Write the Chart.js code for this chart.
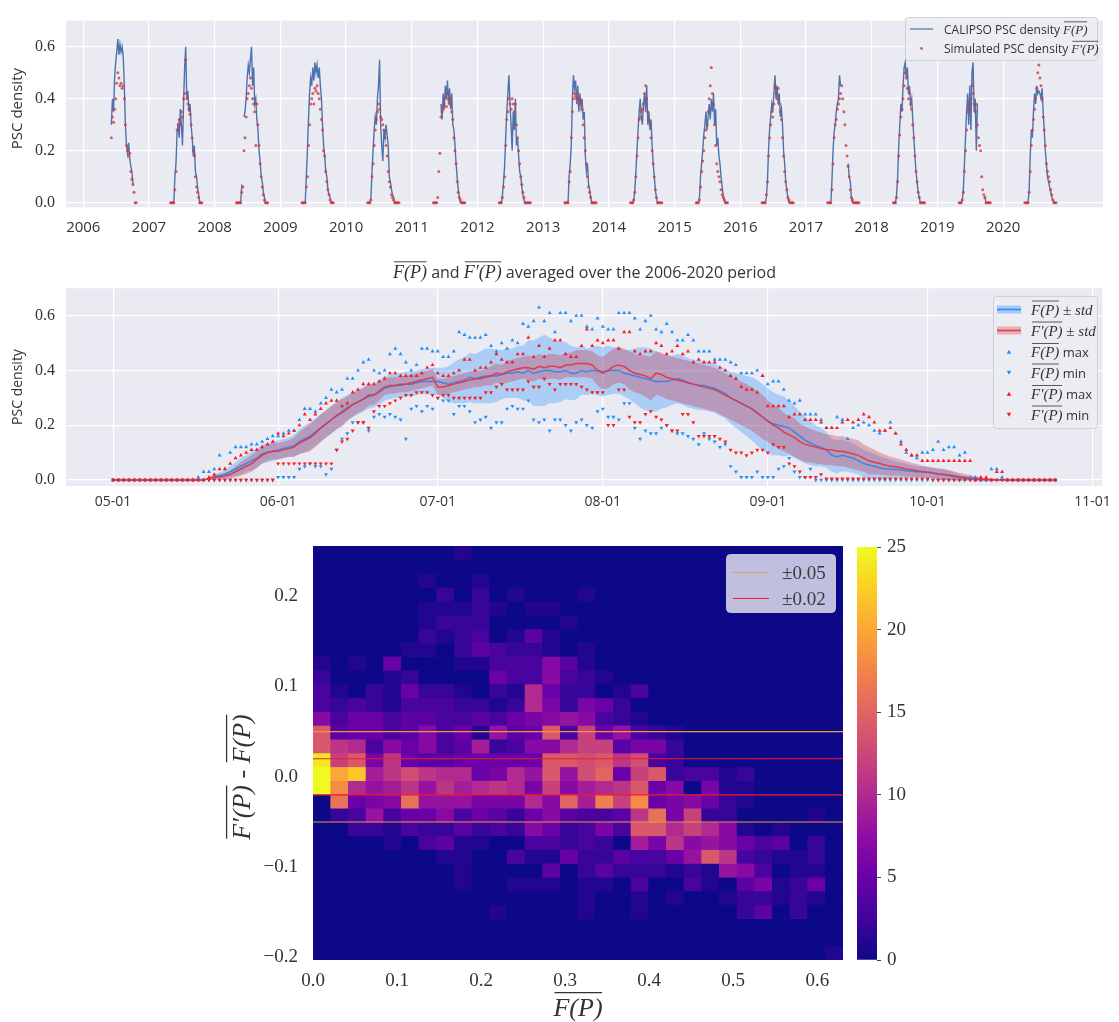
<!DOCTYPE html>
<html><head><meta charset="utf-8">
<script src="https://cdn.jsdelivr.net/npm/chart.js@4.4.1/dist/chart.umd.min.js"></script>
<style>
html,body{margin:0;padding:0;background:#fff;width:1119px;height:1022px;overflow:hidden}
canvas{position:absolute}
</style></head><body>
<canvas id="c1" width="1119" height="245" style="left:0;top:0;width:1119px;height:245px"></canvas>
<canvas id="c2" width="1119" height="265" style="left:0;top:245px;width:1119px;height:265px"></canvas>
<canvas id="c3" width="1119" height="512" style="left:0;top:510px;width:1119px;height:512px"></canvas>
<canvas id="c4" width="100" height="512" style="left:840px;top:510px;width:100px;height:512px"></canvas>
<script>
// ---------------- DATA : panel 1 (daily PSC density, sampled every 6 days from May 1) ----------------
const years = [2006,2007,2008,2009,2010,2011,2012,2013,2014,2015,2016,2017,2018,2019,2020];
const yearTicks = [2006,2007,2008,2009,2010,2011,2012,2013,2014,2015,2016,2017,2018,2019,2020];
const densityTicks = [0,0.2,0.4,0.6];
const sampleStepDays = 6;
const cal2006=[null,null,null,null,null,null,0.30,0.40,0.35,0.48,0.54,0.58,0.63,0.57,0.61,0.58,0.60,0.56,0.45,0.30,0.22,0.19,0.23,0.17,0.14,0.12,0.07,null,null,null];
const sim2006=[null,null,null,null,null,null,0.25,0.33,0.31,0.36,0.40,0.46,0.50,0.48,0.45,0.46,0.44,0.45,0.40,0.30,0.22,0.20,0.18,0.19,0.12,0.09,0.07,0.04,0,0];
const cal2007=[0,0,0,0,0.10,0.15,0.27,0.30,0.25,0.36,0.30,0.22,0.38,0.52,0.60,0.40,0.43,0.35,0.38,0.30,0.25,0.18,0.22,0.12,0.10,0.06,0.03,0,0,0];
const sim2007=[0,0,0,0,0.05,0.12,0.28,0.30,0.32,0.30,0.35,0.33,0.40,0.42,0.55,0.40,0.38,0.36,0.34,0.30,0.25,0.20,0.18,0.10,0.06,0.04,0.02,0,0,0];
const cal2008=[0,0,0,0,0,0.07,null,0.33,0.35,0.40,0.48,0.53,0.50,0.55,0.60,0.45,0.52,0.38,0.40,0.32,0.28,0.20,0.16,0.10,0.08,0.04,0.02,0,0,0];
const sim2008=[0,0,0,0,0,0.04,0.06,0.20,0.25,0.33,0.40,0.42,0.45,0.48,0.44,0.40,0.38,0.35,0.22,0.38,0.30,0.22,0.15,0.10,0.06,0.03,0.01,0,0,0];
const cal2009=[0,0,0,0,0.10,0.20,0.32,0.42,0.48,0.45,0.52,0.47,0.54,0.50,0.53,0.48,0.52,0.45,0.40,0.30,0.22,0.18,0.12,0.10,0.05,0.03,0.02,0,0,0];
const sim2009=[0,0,0,0,0.06,0.10,0.22,0.30,0.38,0.40,0.42,0.38,0.44,0.43,0.45,0.42,0.40,0.36,0.32,0.28,0.20,0.18,0.12,0.08,0.05,0.03,0.01,0,0,0];
const cal2010=[0,0,0,0.02,0.12,0.20,0.28,0.33,0.30,0.40,0.45,0.55,0.30,0.22,0.16,0.28,0.25,0.30,0.26,0.22,0.10,0.08,0.05,0.03,0.02,0,0,0,0,0];
const sim2010=[0,0,0,0.01,0.10,0.15,0.22,0.28,0.32,0.35,0.38,0.36,0.33,0.32,0.30,0.28,0.25,0.22,0.18,0.12,0.08,0.06,0.03,0.02,0.01,0,0,0,0,0];
const cal2011=[0,0,0,0,0,null,null,0.38,0.32,0.42,0.36,0.45,0.40,0.47,0.38,0.44,0.36,0.42,0.30,0.28,0.22,0.15,0.10,0.05,0.02,0,0,0,0,0];
const sim2011=[0,0,0,0,0.02,0.12,0.19,0.33,0.35,0.36,0.38,0.40,0.37,0.42,0.40,0.38,0.40,0.35,0.32,0.25,0.20,0.15,0.08,0.04,0.02,0.01,0,0,0,0];
const cal2012=[0,0,0,0.03,0.08,0.14,0.25,0.35,0.42,0.49,0.38,0.30,0.20,0.35,0.28,0.40,0.22,0.25,0.18,0.12,0.10,0.06,0.03,0.01,0,0,0,0,0,0];
const sim2012=[0,0,0,0.02,0.06,0.10,0.22,0.32,0.35,0.40,0.38,0.36,0.40,0.38,0.35,0.38,0.30,0.25,0.20,0.15,0.10,0.07,0.04,0.02,0,0,0,0,0,0];
const cal2013=[0,0,0,0,0.10,0.15,0.22,0.40,0.49,0.44,0.47,0.38,0.45,0.35,0.42,0.37,0.40,0.32,0.35,0.18,0.12,0.15,0.07,0.05,0.02,0,0,0,0,0];
const sim2013=[0,0,0,0,0.08,0.12,0.25,0.35,0.40,0.42,0.41,0.40,0.42,0.38,0.40,0.39,0.36,0.30,0.25,0.20,0.15,0.10,0.06,0.04,0.02,0,0,0,0,0];
const cal2014=[0,0,0,0.01,0.05,0.12,0.20,0.28,0.35,0.40,0.33,0.30,0.38,0.42,0.35,0.45,0.30,0.35,0.28,0.32,0.22,0.15,0.10,0.05,0.02,0,0,0,0,0];
const sim2014=[0,0,0,0.01,0.04,0.10,0.18,0.25,0.32,0.33,0.35,0.36,0.38,0.42,0.45,0.40,0.35,0.32,0.30,0.25,0.20,0.15,0.10,0.05,0.02,0,0,0,0,0];
const cal2015=[0,0,0,0.02,0.10,0.15,0.20,0.26,0.30,0.35,0.28,0.33,0.38,0.32,0.40,0.35,0.42,0.30,0.36,0.22,0.25,0.18,0.15,0.10,0.06,0.03,0.01,0,0,0];
const sim2015=[0,0,0,0.01,0.06,0.12,0.16,0.20,0.25,0.28,0.30,0.35,0.40,0.45,0.52,0.42,0.38,0.30,0.22,0.15,0.12,0.10,0.08,0.05,0.03,0.02,0.01,0,0,0];
const cal2016=[0,0,0,0,0.02,0.08,0.20,0.28,0.33,0.38,0.35,0.42,0.49,0.40,0.45,0.38,0.42,0.33,0.36,0.30,0.20,0.15,0.08,0.05,0.02,0,0,0,0,0];
const sim2016=[0,0,0,0,0.03,0.08,0.18,0.25,0.30,0.35,0.33,0.38,0.45,0.42,0.40,0.44,0.38,0.35,0.32,0.25,0.18,0.12,0.08,0.05,0.02,0.01,0,0,0,0];
const cal2017=[0,0,0,0,0.08,0.20,0.27,0.30,0.35,0.38,0.40,0.49,0.45,null,null,null,null,null,null,0.15,0.10,0.08,0.02,0,0,0,0,0,0,0];
const sim2017=[0,0,0,0,0.05,0.15,0.25,0.30,0.32,0.36,0.38,0.40,0.42,0.45,0.40,0.35,0.30,0.22,0.18,0.14,0.10,0.05,0.02,0.01,0,0,0,0,0,0];
const cal2018=[0,0,0,0.03,0.10,0.22,0.30,0.38,0.35,0.45,0.52,0.54,0.48,0.52,0.42,0.45,0.38,0.40,0.32,0.25,0.18,0.12,0.08,0.04,0.02,0,0,0,0,0];
const sim2018=[0,0,0,0.02,0.08,0.18,0.26,0.33,0.36,0.40,0.45,0.50,0.48,0.44,0.40,0.42,0.38,0.36,0.30,0.25,0.18,0.12,0.08,0.04,0.02,0,0,0,0,0];
const cal2019=[0,0,0,0.01,0.05,0.15,0.25,0.35,0.42,0.30,0.45,0.28,0.50,0.54,0.35,0.40,0.20,0.38,null,null,0.18,null,null,0.02,0.02,0,0,0,0,0];
const sim2019=[0,0,0,0.01,0.04,0.12,0.20,0.28,0.35,0.38,0.36,0.40,0.45,0.42,0.38,0.35,0.38,0.30,0.25,0.22,0.20,0.10,0.05,0.03,0.02,0,0,0,0,0];
const cal2020=[0,0,0,0,0.05,0.18,0.28,0.25,0.35,0.42,0.38,0.45,0.42,0.43,0.42,0.40,0.44,0.35,0.28,0.20,0.15,0.10,0.08,0.06,0.04,0.02,0.01,0,0,0];
const sim2020=[0,0,0,0,0.04,0.12,0.22,0.28,0.32,0.36,0.40,0.44,0.50,0.53,0.48,0.45,0.40,0.33,0.28,0.22,0.15,0.12,0.10,0.08,0.05,0.03,0.01,0,0,0];
const calipsoSeasons=[cal2006,cal2007,cal2008,cal2009,cal2010,cal2011,cal2012,cal2013,cal2014,cal2015,cal2016,cal2017,cal2018,cal2019,cal2020];
const simSeasons=[sim2006,sim2007,sim2008,sim2009,sim2010,sim2011,sim2012,sim2013,sim2014,sim2015,sim2016,sim2017,sim2018,sim2019,sim2020];

// ---------------- DATA : panel 2 (daily climatology, day 0 = 05-01) ----------------
const monthTickDays=[0,31,61,92,123,153,184];
const monthTickLabels=['05-01','06-01','07-01','08-01','09-01','10-01','11-01'];
const meanF=[0,0,0,0,0,0,0,0,0,0,0,0,0,0,0,0,0,0,
0.005,0.01,0.015,0.02,0.03,0.04,0.05,0.06,0.07,0.08,
0.095,0.10,0.105,0.11,0.115,0.12,0.125,0.14,0.15,0.16,
0.175,0.19,0.205,0.22,0.235,0.25,0.265,0.275,0.285,0.295,
0.305,0.31,0.32,0.335,0.34,0.345,0.345,0.35,0.35,0.355,
0.36,0.36,0.36,0.36,0.355,0.35,0.355,0.36,0.365,0.375,
0.37,0.375,0.38,0.38,0.38,0.385,0.39,0.39,0.395,0.39,
0.40,0.39,0.395,0.40,0.40,0.395,
0.395,0.40,0.39,0.39,0.40,0.395,0.40,0.40,0.395,0.40,
0.40,0.40,0.39,0.385,0.38,0.375,0.37,0.365,0.36,0.36,
0.36,0.365,0.37,0.365,0.355,0.35,0.345,0.345,0.34,0.335,
0.325,0.315,0.30,0.29,0.28,0.27,0.26,0.245,0.23,0.215,
0.205,0.20,0.195,0.19,0.175,0.16,0.145,0.135,0.125,0.12,
0.11,0.09,0.085,0.09,0.085,0.08,0.07,0.06,0.055,0.05,
0.045,0.04,0.04,0.038,0.036,0.034,0.032,0.03,0.03,0.028,
0.026,0.022,0.02,0.016,0.012,0.008,0.005,0.004,0.003,0.002,
0,0,0,0,0,0,0,0,0,0,0,0,0,0];
const stdF=[0,0,0,0,0,0,0,0,0,0,0,0,0,0,0,0,0,0,
0.005,0.01,0.012,0.015,0.02,0.025,0.03,0.03,0.035,0.035,
0.035,0.035,0.035,0.035,0.035,0.035,0.04,0.045,0.05,0.05,
0.05,0.05,0.05,0.05,0.05,0.05,0.045,0.045,0.045,0.045,
0.045,0.045,0.045,0.045,0.045,0.045,0.045,0.045,0.045,0.045,
0.045,0.045,0.05,0.05,0.055,0.065,0.075,0.08,0.085,0.09,
0.09,0.095,0.10,0.10,0.095,0.09,0.09,0.09,0.095,0.10,
0.11,0.12,0.125,0.13,0.12,0.115,
0.11,0.105,0.10,0.095,0.09,0.085,0.085,0.09,0.09,0.09,
0.085,0.085,0.085,0.09,0.10,0.11,0.115,0.115,0.11,0.10,
0.095,0.09,0.09,0.09,0.09,0.09,0.09,0.09,0.09,0.09,
0.09,0.09,0.095,0.10,0.105,0.11,0.115,0.12,0.12,0.12,
0.115,0.11,0.11,0.10,0.095,0.09,0.085,0.08,0.075,0.07,
0.065,0.06,0.06,0.058,0.055,0.055,0.05,0.05,0.048,0.045,
0.042,0.04,0.035,0.03,0.028,0.025,0.022,0.02,0.02,0.02,
0.02,0.02,0.02,0.018,0.015,0.012,0.008,0.006,0.005,0.004,
0.003,0.002,0,0,0,0,0,0,0,0,0,0,0,0];
const meanFp=[0,0,0,0,0,0,0,0,0,0,0,0,0,0,0,0,0,0,
0.005,0.01,0.012,0.015,0.02,0.03,0.04,0.05,0.06,0.075,
0.09,0.10,0.105,0.105,0.11,0.115,0.12,0.135,0.145,0.155,
0.17,0.19,0.205,0.22,0.235,0.245,0.26,0.275,0.285,0.295,
0.31,0.31,0.325,0.34,0.345,0.345,0.35,0.35,0.355,0.36,
0.365,0.37,0.375,0.34,0.34,0.345,0.35,0.355,0.36,0.365,
0.37,0.37,0.375,0.38,0.39,0.385,0.395,0.40,0.405,0.41,
0.41,0.405,0.415,0.41,0.415,0.415,
0.41,0.42,0.42,0.425,0.425,0.425,0.42,0.40,0.39,0.40,
0.415,0.42,0.415,0.40,0.39,0.385,0.38,0.37,0.39,0.385,
0.375,0.37,0.365,0.36,0.355,0.35,0.345,0.34,0.335,0.33,
0.32,0.31,0.30,0.29,0.28,0.27,0.26,0.245,0.23,0.215,
0.20,0.19,0.175,0.165,0.155,0.14,0.13,0.125,0.12,0.115,
0.11,0.11,0.105,0.105,0.10,0.095,0.09,0.08,0.07,0.065,
0.06,0.055,0.05,0.048,0.045,0.04,0.037,0.034,0.03,0.028,
0.025,0.022,0.02,0.018,0.015,0.012,0.01,0.008,0.006,0.004,
0.003,0.002,0,0,0,0,0,0,0,0,0,0,0,0];
const stdFp=[0,0,0,0,0,0,0,0,0,0,0,0,0,0,0,0,0,0,
0.005,0.008,0.01,0.012,0.015,0.02,0.025,0.028,0.03,0.03,
0.03,0.03,0.03,0.03,0.03,0.03,0.035,0.04,0.045,0.05,
0.05,0.05,0.05,0.05,0.05,0.05,0.045,0.045,0.04,0.04,
0.04,0.035,0.035,0.03,0.03,0.03,0.03,0.03,0.03,0.03,
0.03,0.03,0.03,0.03,0.03,0.03,0.03,0.03,0.03,0.03,
0.03,0.03,0.03,0.035,0.035,0.035,0.04,0.04,0.04,0.04,
0.045,0.045,0.045,0.045,0.045,0.045,
0.045,0.045,0.045,0.05,0.05,0.05,0.05,0.055,0.06,0.065,
0.065,0.065,0.065,0.07,0.07,0.07,0.075,0.08,0.08,0.08,
0.08,0.08,0.08,0.08,0.08,0.08,0.08,0.08,0.08,0.08,
0.08,0.08,0.08,0.08,0.08,0.08,0.08,0.08,0.08,0.075,
0.075,0.075,0.07,0.07,0.07,0.065,0.065,0.06,0.06,0.058,
0.056,0.055,0.055,0.055,0.055,0.055,0.055,0.05,0.05,0.045,
0.04,0.038,0.035,0.032,0.03,0.028,0.025,0.024,0.022,0.02,
0.02,0.02,0.02,0.018,0.016,0.014,0.012,0.01,0.008,0.006,
0.004,0.002,0,0,0,0,0,0,0,0,0,0,0,0];
const maxF=[0,0,0,0,0,0,0,0,0,0,0,0,0,0,0,0,
0.01,0.03,0.03,0.04,0.09,0.04,0.10,0.12,0.12,0.12,
0.13,0.13,0.14,0.15,0.16,0.16,0.17,0.18,0.18,0.22,
0.26,0.26,0.25,0.28,0.30,0.33,0.32,0.33,0.37,0.37,
0.40,0.43,0.44,0.40,0.39,0.40,0.46,0.48,0.46,0.43,
0.40,0.42,0.48,0.48,0.47,0.47,0.45,0.45,0.47,0.54,
0.53,0.52,0.52,0.52,0.53,0.49,0.47,0.50,0.48,0.51,
0.50,0.57,0.56,0.58,0.63,0.58,0.61,0.54,
0.61,0.61,0.58,0.60,0.60,0.56,0.55,0.59,0.56,0.55,
0.55,0.61,0.61,0.61,0.59,0.55,0.58,0.60,0.55,0.54,
0.57,0.54,0.51,0.51,0.53,0.51,0.47,0.47,0.47,0.44,
0.44,0.44,0.43,0.42,0.39,0.39,0.39,0.40,0.38,0.35,
0.36,0.36,0.33,0.29,0.28,0.29,0.24,0.24,0.24,0.22,
0.19,0.19,0.23,0.22,0.15,0.19,0.20,0.21,0.20,0.18,
0.17,0.18,0.21,0.17,0.14,0.10,0.09,0.08,0.10,0.10,
0.11,0.14,0.11,0.12,0.12,0.09,0.10,0.01,0.01,0,
0,0.04,0.04,0.01,0,0,0,0,0,0,0,0,0,0];
const minF=[0,0,0,0,0,0,0,0,0,0,0,0,0,0,0,0,0,0,0,0,0,0,0,0,0,0,0,0,0,0,0,
0.01,0.01,0.01,0.01,0.04,0.05,0.06,0.05,0.05,0.02,0.04,
0.11,0.15,0.17,0.21,0.21,0.21,0.18,0.23,0.24,0.23,
0.24,0.23,0.22,0.15,0.26,0.27,0.25,0.27,0.26,0.30,
0.29,0.29,0.24,0.27,0.27,0.25,0.21,0.22,0.23,0.19,
0.21,0.21,0.26,0.27,0.26,0.26,0.29,0.22,0.21,0.22,
0.18,0.22,
0.22,0.20,0.18,0.21,0.22,0.20,0.19,0.25,0.26,0.23,
0.23,0.22,0.28,0.28,0.19,0.15,0.18,0.17,0.17,0.19,
0.20,0.18,0.17,0.17,0.16,0.15,0.13,0.17,0.15,0.14,
0.12,0.13,0.05,0.03,0.01,0.01,0.01,0.03,0.01,0.01,
0.01,0.04,0.05,0.08,0.03,0.01,0.01,0.04,0,0,
0,0,0,0,0,0,0,0,0,0,0,0,0,0,0,0,0,0,0,0,0,0,0,0,0,0,0,0,0,0,0,0,0,0,0,0,0,0,0,0,0,0,0,0];
const maxFp=[0,0,0,0,0,0,0,0,0,0,0,0,0,0,0,0,0,0,
0.01,0.02,0.04,0.04,0.06,0.08,0.09,0.10,0.11,0.11,
0.12,0.13,0.14,0.17,0.16,0.17,0.18,0.20,0.24,0.22,
0.24,0.26,0.28,0.29,0.29,0.27,0.28,0.32,0.33,0.35,
0.35,0.35,0.36,0.37,0.39,0.39,0.38,0.38,0.38,0.38,
0.39,0.41,0.42,0.39,0.38,0.38,0.39,0.40,0.44,0.44,
0.40,0.41,0.41,0.43,0.46,0.44,0.43,0.43,0.46,0.46,
0.52,0.45,0.49,0.45,0.48,0.51,
0.51,0.46,0.45,0.45,0.49,0.55,0.49,0.51,0.50,0.51,
0.51,0.48,0.54,0.54,0.47,0.46,0.47,0.47,0.50,0.49,
0.46,0.47,0.49,0.46,0.47,0.43,0.44,0.43,0.43,0.43,
0.41,0.40,0.38,0.37,0.34,0.33,0.33,0.32,0.38,0.27,
0.27,0.27,0.27,0.23,0.24,0.24,0.22,0.22,0.22,0.21,
0.19,0.19,0.19,0.21,0.22,0.21,0.22,0.24,0.23,0.21,
0.18,0.18,0.19,0.17,0.13,0.11,0.09,0.09,0.07,0.07,
0.07,0.07,0.07,0.07,0.07,0.07,0.07,0.07,0,0.01,
0.01,0,0.03,0.03,0,0,0,0,0,0,0,0,0,0];
const minFp=[0,0,0,0,0,0,0,0,0,0,0,0,0,0,0,0,0,0,0,0,0,0,0,0,0,0,0,0,0,0,0,
0.06,0.06,0.06,0.06,0.06,0.06,0.06,0.06,0.06,0.06,0.06,
0.11,0.14,0.15,0.18,0.21,0.21,0.19,0.25,0.27,0.27,
0.28,0.29,0.30,0.31,0.31,0.32,0.32,0.32,0.31,0.30,
0.31,0.31,0.30,0.30,0.30,0.30,0.30,0.30,0.32,0.32,
0.34,0.35,0.33,0.33,0.33,0.33,0.36,0.34,0.34,0.37,
0.35,0.33,
0.35,0.35,0.35,0.35,0.34,0.33,0.32,0.32,0.32,0.20,
0.20,0.33,0.33,0.23,0.21,0.21,0.24,0.25,0.23,0.22,
0.20,0.18,0.18,0.24,0.24,0.21,0.16,0.16,0.16,0.16,
0.15,0.14,0.11,0.10,0.10,0.09,0.10,0.11,0.11,0.10,
0.13,0.12,0.12,0.06,0.05,0.03,0.01,0.01,0.01,0.02,
0.005,0.005,0.005,0.005,0.005,0.005,0.005,0.005,0.005,0.005,
0.005,0.005,0.005,0.005,0.005,0.005,0.005,0.005,0.005,0.005,
0,0,0,0,0,0,0,0,0,0,0,0,0,0,0,0,0,0,0,0,0,0,0,0];

// ---------------- DATA : panel 3 (2-D histogram, rows from top y-bin to bottom) ----------------
const histXRange=[0,0.6306];
const histYRange=[-0.2029,0.2556];
const histXTicks=[0,0.1,0.2,0.3,0.4,0.5,0.6];
const histYTicks=[-0.2,-0.1,0,0.1,0.2];
const thresholdOuter=0.05, thresholdInner=0.02;
const colorbarTicks=[0,5,10,15,20,25];
const countMax=25;
const histCounts=[
[0,0,0,0,0,0,0,0,1,0,0,0,0,0,0,0,0,0,0,0,0,0,0,0,0,0,0,0,0,0],
[0,0,0,0,0,0,0,0,0,0,0,0,0,0,0,0,0,0,0,0,0,0,0,0,0,0,0,0,0,0],
[0,0,0,0,0,0,1,0,0,1,0,0,0,0,0,0,0,0,0,0,0,0,0,0,0,0,0,0,0,0],
[0,0,0,0,0,0,0,2,0,2,0,1,0,0,0,1,0,0,0,0,0,0,0,0,0,0,0,0,0,0],
[0,0,0,0,0,0,1,1,1,2,1,0,1,1,0,0,0,0,0,0,0,0,0,0,0,0,0,0,0,0],
[0,0,0,0,0,0,1,2,2,2,0,0,0,0,1,0,0,0,0,0,0,0,0,0,0,0,0,0,0,0],
[0,0,0,0,0,0,2,1,2,3,0,1,4,1,0,0,0,0,0,0,0,0,0,0,0,0,0,0,0,0],
[0,0,0,0,0,1,1,0,2,4,3,2,2,1,0,1,0,0,0,0,0,0,0,0,0,0,0,0,0,0],
[1,0,1,0,5,0,0,0,1,1,3,3,3,7,4,1,0,0,0,0,0,0,0,0,0,0,0,0,0,0],
[2,0,0,0,1,2,0,0,0,0,5,3,3,7,3,2,1,0,0,0,0,0,0,0,0,0,0,0,0,0],
[3,1,0,2,1,5,2,2,1,0,2,1,10,5,2,2,0,1,3,0,0,0,0,0,0,0,0,0,0,0],
[3,2,3,2,1,3,3,3,2,2,1,2,10,6,2,6,5,2,0,0,0,0,0,0,0,0,0,0,0,0],
[7,3,5,5,3,4,4,3,3,4,3,5,6,7,8,7,3,2,1,0,0,0,0,0,0,0,0,0,0,0],
[14,4,5,5,3,4,7,3,5,1,8,4,5,14,3,12,5,8,3,2,1,0,0,0,0,0,0,0,0,0],
[14,11,10,3,7,5,7,3,4,9,2,3,7,7,10,12,12,4,6,6,2,0,0,0,0,0,0,0,0,0],
[24,12,14,6,11,5,4,4,5,5,5,5,5,14,14,13,14,11,13,3,2,0,0,0,0,0,0,0,0,0],
[25,20,22,9,11,13,11,10,10,5,6,10,8,14,8,13,15,5,12,14,2,3,3,1,2,0,0,0,0,0],
[25,18,10,8,9,11,8,11,9,10,11,10,6,12,7,9,10,11,14,5,7,0,6,1,1,0,0,0,0,0],
[0,16,5,6,7,16,8,8,8,6,6,6,10,7,15,9,17,12,18,5,6,7,5,2,1,0,0,0,0,0],
[0,2,3,8,3,5,5,7,3,5,4,2,5,7,4,3,3,4,11,16,6,12,2,2,0,0,0,0,1,0],
[0,0,2,2,1,3,2,2,4,2,3,2,7,5,2,3,6,3,14,14,10,12,10,7,1,0,1,0,0,0],
[0,0,0,0,1,0,3,4,1,1,0,0,3,3,2,3,2,0,9,6,11,7,8,7,5,3,4,0,2,0],
[0,0,0,0,0,0,0,1,1,0,0,3,1,1,5,2,2,4,3,3,5,8,14,11,3,2,1,1,2,0],
[0,0,0,0,0,0,0,0,1,0,0,0,0,4,0,2,4,2,2,2,1,2,1,8,7,3,0,1,1,0],
[0,0,0,0,0,0,0,0,1,0,0,1,1,1,0,1,1,0,3,0,0,3,1,0,4,6,1,2,5,0],
[0,0,0,0,0,0,0,0,0,0,0,0,0,0,0,1,0,0,1,0,1,0,0,1,2,2,1,2,1,0],
[0,0,0,0,0,0,0,0,0,0,1,0,0,0,0,1,0,0,1,0,0,0,0,0,2,4,0,2,0,0],
[0,0,0,0,0,0,0,0,0,0,0,0,0,0,0,0,0,0,0,0,0,0,0,0,0,0,0,0,0,0],
[0,0,0,0,0,0,0,0,0,0,0,0,0,0,0,0,0,0,0,0,0,0,0,0,0,0,0,0,0,0],
[0,0,0,0,0,0,0,0,0,0,0,0,0,0,0,0,0,0,0,0,0,0,0,0,0,0,0,0,0,1]
];

// ---------------- STYLE / HELPERS ----------------
const plasma=['#0d0887','#41049d','#6a00a8','#8f0da4','#b12a90','#cc4778','#e16462','#f2844b','#fca636','#fcce25','#f0f921'];
function hex2rgb(h){return [parseInt(h.slice(1,3),16),parseInt(h.slice(3,5),16),parseInt(h.slice(5,7),16)];}
function plasmaColor(v){
  let t=Math.max(0,Math.min(1,v/countMax))*(plasma.length-1);
  let i=Math.min(Math.floor(t),plasma.length-2), f=t-i;
  const a=hex2rgb(plasma[i]), b=hex2rgb(plasma[i+1]);
  return 'rgb('+a.map((x,k)=>Math.round(x+(b[k]-x)*f)).join(',')+')';
}
const SERIF='"Liberation Serif","DejaVu Serif",serif';
const SANS='"Open Sans","Noto Sans",sans-serif';
const TXT='#333333';
function M(text,size){return {text,font:'italic '+size+'px '+SERIF,over:true,size};}
function T(text,font){return {text,font};}
function rich(ctx,parts,x,y,align,color){
  const w=parts.map(p=>{ctx.font=p.font;return ctx.measureText(p.text).width;});
  const tot=w.reduce((a,b)=>a+b,0);
  let cx=align==='center'?x-tot/2:(align==='right'?x-tot:x);
  ctx.fillStyle=color||TXT; ctx.strokeStyle=color||TXT; ctx.textAlign='left'; ctx.textBaseline='alphabetic';
  parts.forEach((p,i)=>{
    ctx.font=p.font; ctx.fillText(p.text,cx,y);
    if(p.over){ctx.lineWidth=Math.max(0.8,p.size/20);ctx.beginPath();ctx.moveTo(cx+1,y-p.size*0.9);ctx.lineTo(cx+w[i]-0.5,y-p.size*0.9);ctx.stroke();}
    cx+=w[i];
  });
  return tot;
}
function roundBox(ctx,x,y,w,h,r,fill,stroke){
  ctx.beginPath();ctx.moveTo(x+r,y);ctx.lineTo(x+w-r,y);ctx.quadraticCurveTo(x+w,y,x+w,y+r);ctx.lineTo(x+w,y+h-r);ctx.quadraticCurveTo(x+w,y+h,x+w-r,y+h);
  ctx.lineTo(x+r,y+h);ctx.quadraticCurveTo(x,y+h,x,y+h-r);ctx.lineTo(x,y+r);ctx.quadraticCurveTo(x,y,x+r,y);ctx.closePath();
  ctx.fillStyle=fill;ctx.fill();if(stroke){ctx.strokeStyle=stroke;ctx.lineWidth=1;ctx.stroke();}
}
function tri(ctx,x,y,s,down,color){
  ctx.fillStyle=color;ctx.beginPath();
  if(!down){ctx.moveTo(x,y-s);ctx.lineTo(x+s,y+s*0.8);ctx.lineTo(x-s,y+s*0.8);}
  else{ctx.moveTo(x,y+s);ctx.lineTo(x+s,y-s*0.8);ctx.lineTo(x-s,y-s*0.8);}
  ctx.closePath();ctx.fill();
}
const bgPlugin={id:'bg',beforeDraw(chart){const a=chart.chartArea,c=chart.ctx;c.save();c.fillStyle='#eaeaf2';c.fillRect(a.left,a.top,a.right-a.left,a.bottom-a.top);c.restore();}};
function vLabel(ctx,text,x,y,font){ctx.save();ctx.translate(x,y);ctx.rotate(-Math.PI/2);ctx.font=font;ctx.fillStyle=TXT;ctx.textAlign='center';ctx.textBaseline='middle';ctx.fillText(text,0,0);ctx.restore();}
Chart.defaults.animation=false;
Chart.defaults.events=[];
Chart.defaults.plugins.legend.display=false;
Chart.defaults.plugins.tooltip.enabled=false;

// ---------------- PANEL 1 ----------------
function decYear(y,dayOff){const t=Date.UTC(y,4,1+dayOff),t0=Date.UTC(y,0,1),t1=Date.UTC(y+1,0,1);return y+(t-t0)/(t1-t0);}
const calPts=[],simPts=[];
years.forEach((y,k)=>{
  calipsoSeasons[k].forEach((v,i)=>calPts.push({x:decYear(y,i*sampleStepDays),y:v}));
  calPts.push({x:decYear(y,200),y:null});
  simSeasons[k].forEach((v,i)=>{if(v!==null)simPts.push({x:decYear(y,i*sampleStepDays),y:v});});
});
new Chart(document.getElementById('c1'),{
  type:'line',
  data:{datasets:[
    {data:simPts,showLine:false,pointRadius:1.5,pointBackgroundColor:'rgba(205,60,60,0.8)',pointBorderWidth:0,order:1},
    {data:calPts,borderColor:'#4c72b0',borderWidth:1.4,pointRadius:0,spanGaps:false,order:2}
  ]},
  options:{responsive:false,
    layout:{padding:{left:0,right:16,top:10,bottom:0}},
    scales:{
      x:{type:'linear',min:2005.737,max:2021.52,
        afterBuildTicks:s=>{s.ticks=yearTicks.map(v=>({value:v}));},
        afterFit:s=>{s.height=37.7;},
        grid:{color:'#ffffff',lineWidth:1.2,drawTicks:false},border:{display:false},
        ticks:{padding:11,autoSkip:false,maxRotation:0,color:TXT,font:{family:SANS,size:15},callback:v=>String(v)}},
      y:{type:'linear',min:-0.018,max:0.701,
        afterBuildTicks:s=>{s.ticks=densityTicks.map(v=>({value:v}));},
        afterFit:s=>{s.width=66;},
        grid:{color:'#ffffff',lineWidth:1.2,drawTicks:false},border:{display:false},
        ticks:{padding:11,color:TXT,font:{family:SERIF,size:16},callback:v=>Number(v).toFixed(1)}}
    }},
  plugins:[bgPlugin,{id:'deco1',afterDraw(chart){
    const c=chart.ctx;c.save();
    vLabel(c,'PSC density',18,108.6,'15px '+SANS);
    roundBox(c,905.5,17.5,192,43,3,'rgba(236,236,243,0.85)','#cfcfd8');
    c.strokeStyle='#4c72b0';c.lineWidth=1.2;c.beginPath();c.moveTo(910,29);c.lineTo(933,29);c.stroke();
    rich(c,[T('CALIPSO PSC density ','12px '+SANS),M('F(P)',13)],944,33.5,'left');
    c.fillStyle='rgba(205,60,60,0.8)';c.beginPath();c.arc(921.5,48.5,1.4,0,Math.PI*2);c.fill();
    rich(c,[T('Simulated PSC density ','12px '+SANS),M('F\u2032(P)',13)],944,53,'left');
    c.restore();}}]
});

// ---------------- PANEL 2 ----------------
const pts=arr=>arr.map((v,i)=>({x:i,y:v}));
const lowF=meanF.map((m,i)=>m-stdF[i]), upF=meanF.map((m,i)=>m+stdF[i]);
const lowFp=meanFp.map((m,i)=>m-stdFp[i]), upFp=meanFp.map((m,i)=>m+stdFp[i]);
const BLUE='#1e90ff', RED='#ff1a1a';
const mk=(arr,color,down,order)=>({data:pts(arr),showLine:false,pointStyle:'triangle',rotation:down?180:0,pointRadius:2.3,pointBackgroundColor:color,pointBorderColor:color,pointBorderWidth:0,order});
new Chart(document.getElementById('c2'),{
  type:'line',
  data:{datasets:[
    {data:pts(lowF),borderWidth:0,pointRadius:0,fill:false,order:10},
    {data:pts(upF),borderWidth:0,pointRadius:0,fill:'-1',backgroundColor:'rgba(30,144,255,0.3)',order:10},
    {data:pts(lowFp),borderWidth:0,pointRadius:0,fill:false,order:9},
    {data:pts(upFp),borderWidth:0,pointRadius:0,fill:'-1',backgroundColor:'rgba(205,45,70,0.33)',order:9},
    {data:pts(meanF),borderColor:'rgba(40,130,235,0.85)',borderWidth:1.5,pointRadius:0,order:8},
    {data:pts(meanFp),borderColor:'rgba(226,50,64,0.9)',borderWidth:1.5,pointRadius:0,order:7},
    mk(maxF,BLUE,false,6),mk(minF,BLUE,true,5),mk(maxFp,RED,false,4),mk(minFp,RED,true,3)
  ]},
  options:{responsive:false,
    layout:{padding:{left:0,right:16,top:43.3,bottom:0}},
    scales:{
      x:{type:'linear',min:-8.85,max:185.85,
        afterBuildTicks:s=>{s.ticks=monthTickDays.map(v=>({value:v}));},
        afterFit:s=>{s.height=24;},
        grid:{color:'#ffffff',lineWidth:1.2,drawTicks:false},border:{display:false},
        ticks:{padding:8,autoSkip:false,maxRotation:0,color:TXT,font:{family:SANS,size:14},callback:v=>monthTickLabels[monthTickDays.indexOf(v)]}},
      y:{type:'linear',min:-0.022,max:0.700,
        afterBuildTicks:s=>{s.ticks=densityTicks.map(v=>({value:v}));},
        afterFit:s=>{s.width=66;},
        grid:{color:'#ffffff',lineWidth:1.2,drawTicks:false},border:{display:false},
        ticks:{padding:11,color:TXT,font:{family:SERIF,size:16},callback:v=>Number(v).toFixed(1)}}
    }},
  plugins:[bgPlugin,{id:'deco2',afterDraw(chart){
    const c=chart.ctx;c.save();
    vLabel(c,'PSC density',18,142,'14px '+SANS);
    rich(c,[M('F(P)',18),T(' and ','16px '+SANS),M('F\u2032(P)',18),T(' averaged over the 2006-2020 period','16px '+SANS)],584.5,33,'center');
    roundBox(c,993.5,51.5,104,132,3,'rgba(236,236,243,0.85)','#cfcfd8');
    const rows=[64.5,85.5,107,127.5,149,169.5];
    c.fillStyle='rgba(30,144,255,0.35)';c.fillRect(997,rows[0]-4,24,8);
    c.strokeStyle='rgba(40,130,235,0.9)';c.lineWidth=1.6;c.beginPath();c.moveTo(997,rows[0]);c.lineTo(1021,rows[0]);c.stroke();
    c.fillStyle='rgba(226,60,75,0.35)';c.fillRect(997,rows[1]-4,24,8);
    c.strokeStyle='rgba(226,50,64,0.9)';c.beginPath();c.moveTo(997,rows[1]);c.lineTo(1021,rows[1]);c.stroke();
    tri(c,1009,rows[2],2.3,false,BLUE);tri(c,1009,rows[3],2.3,true,BLUE);
    tri(c,1009,rows[4],2.3,false,RED);tri(c,1009,rows[5],2.3,true,RED);
    const ser15='15px '+SERIF, it15='italic 15px '+SERIF, s13='13px '+SANS;
    rich(c,[M('F(P)',15),T(' \u00b1 ',ser15),T('std',it15)],1031,rows[0]+5,'left');
    rich(c,[M('F\u2032(P)',15),T(' \u00b1 ',ser15),T('std',it15)],1031,rows[1]+5,'left');
    rich(c,[M('F(P)',15),T(' max',s13)],1031,rows[2]+5,'left');
    rich(c,[M('F(P)',15),T(' min',s13)],1031,rows[3]+5,'left');
    rich(c,[M('F\u2032(P)',15),T(' max',s13)],1031,rows[4]+5,'left');
    rich(c,[M('F\u2032(P)',15),T(' min',s13)],1031,rows[5]+5,'left');
    c.restore();}}]
});

// ---------------- PANEL 3 : heatmap ----------------
const nRows=histCounts.length, nCols=histCounts[0].length;
const dy=(histYRange[1]-histYRange[0])/nRows;
const colLabels=histCounts[0].map((_,i)=>String(i));
const hmDatasets=histCounts.map((row,r)=>({
  type:'bar',xAxisID:'x',yAxisID:'y',grouped:false,barPercentage:1,categoryPercentage:1,borderWidth:0,order:10,
  data:row.map(()=>[histYRange[1]-(r+1)*dy,histYRange[1]-r*dy]),
  backgroundColor:row.map(v=>plasmaColor(v))
}));
const hLine=(yv,color)=>({type:'line',xAxisID:'xl',yAxisID:'y',data:[{x:histXRange[0],y:yv},{x:histXRange[1],y:yv}],borderColor:color,borderWidth:1.1,pointRadius:0,order:1});
hmDatasets.push(hLine(thresholdOuter,'#e89a3c'),hLine(-thresholdOuter,'#e89a3c'),hLine(thresholdInner,'#ee1c25'),hLine(-thresholdInner,'#ee1c25'));
new Chart(document.getElementById('c3'),{
  type:'bar',
  data:{labels:colLabels,datasets:hmDatasets},
  options:{responsive:false,
    layout:{padding:{left:0,right:276,top:36,bottom:0}},
    scales:{
      x:{type:'category',display:false,offset:true},
      xl:{type:'linear',position:'bottom',offset:false,min:histXRange[0],max:histXRange[1],
        afterBuildTicks:s=>{s.ticks=histXTicks.map(v=>({value:v}));},
        afterFit:s=>{s.height=62;},
        grid:{display:false,drawTicks:false},border:{display:false},
        ticks:{padding:10,autoSkip:false,maxRotation:0,color:TXT,font:{family:SERIF,size:19},callback:v=>Number(v).toFixed(1)}},
      y:{type:'linear',min:histYRange[0],max:histYRange[1],
        afterBuildTicks:s=>{s.ticks=histYTicks.map(v=>({value:v}));},
        afterFit:s=>{s.width=313;},
        grid:{display:false,drawTicks:false},border:{display:false},
        ticks:{padding:15,color:TXT,font:{family:SERIF,size:19},callback:v=>{const n=Number(v);return (n<-1e-9?'\u2212':'')+Math.abs(n).toFixed(1);}}}
    }},
  plugins:[{id:'deco3',afterDraw(chart){
    const c=chart.ctx;c.save();
    roundBox(c,726.5,44.5,109,58,4,'rgba(255,255,255,0.74)','rgba(205,205,220,0.9)');
    c.lineWidth=1.1;
    c.strokeStyle='#e89a3c';c.beginPath();c.moveTo(733,62.5);c.lineTo(769,62.5);c.stroke();
    c.strokeStyle='#ee1c25';c.beginPath();c.moveTo(733,88.5);c.lineTo(769,88.5);c.stroke();
    rich(c,[T('\u00b10.05','19px '+SERIF)],782,69,'left','#3a3a3a');
    rich(c,[T('\u00b10.02','19px '+SERIF)],782,95,'left','#3a3a3a');
    rich(c,[M('F(P)',26)],578,506,'center');
    c.translate(241,267);c.rotate(-Math.PI/2);
    rich(c,[M('F\u2032(P)',26),T(' - ','26px '+SERIF),M('F(P)',26)],0,9,'center');
    c.restore();}}]
});

// ---------------- colorbar ----------------
new Chart(document.getElementById('c4'),{
  type:'bar',
  data:{labels:['count'],datasets:[{data:[[0,countMax]],barPercentage:1,categoryPercentage:1,borderWidth:0,
    backgroundColor:(ctx)=>{const ch=ctx.chart,a=ch.chartArea;if(!a)return plasma[0];const g=ch.ctx.createLinearGradient(0,a.bottom,0,a.top);plasma.forEach((col,i)=>g.addColorStop(i/(plasma.length-1),col));return g;}}]},
  options:{responsive:false,
    layout:{padding:{left:17,right:0,top:37,bottom:62}},
    scales:{
      x:{display:false},
      y:{position:'right',min:0,max:countMax,
        afterBuildTicks:s=>{s.ticks=colorbarTicks.map(v=>({value:v}));},
        afterFit:s=>{s.width=63;},
        grid:{drawOnChartArea:false,drawTicks:true,tickLength:4,tickColor:'#444',tickWidth:1},border:{display:false},
        ticks:{padding:6,color:TXT,font:{family:SERIF,size:19},callback:v=>String(v)}}
    }}
});
</script></body></html>
